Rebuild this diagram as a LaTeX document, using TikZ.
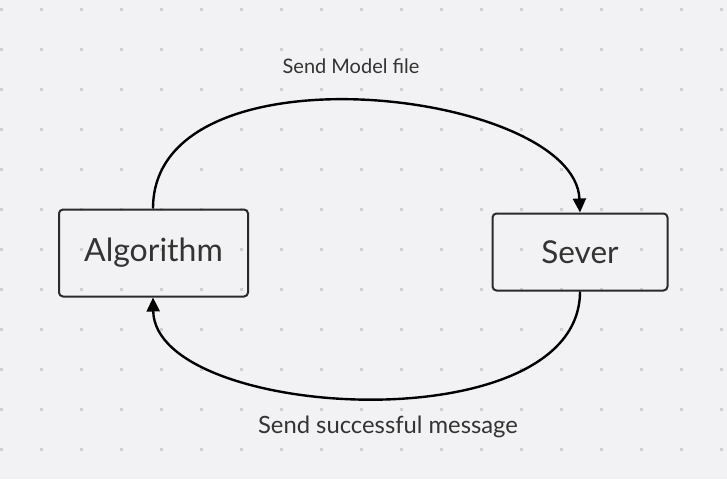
\documentclass[tikz,border=0pt]{standalone}
\usepackage{fontspec}
\setmainfont{Lato}
\usetikzlibrary{arrows.meta}
\definecolor{bgc}{HTML}{F2F2F4}
\definecolor{dotc}{HTML}{CFCFD4}
\definecolor{linec}{HTML}{2A2A2A}
\definecolor{textc}{HTML}{333333}
\tikzset{
  box/.style={draw=linec, line width=2pt, rounded corners=4pt, inner sep=0pt, text=textc},
  lbl/.style={inner sep=0pt, text=textc},
  conn/.style={draw=black, line width=2.4pt, -{Triangle[length=14pt,width=13pt]}},
}
\begin{document}
\begin{tikzpicture}[x=1pt,y=-1pt]
\fill[bgc] (0,0) rectangle (727,479);
\useasboundingbox (0,0) rectangle (727,479);
\foreach \i in {0,...,18}{
  \foreach \j in {0,...,11}{
    \fill[dotc] ({40*\i},{8+40*\j}) rectangle ++(3,3);
  }
}
\node[box, minimum width=189pt, minimum height=87pt, font=\fontsize{32}{36}\selectfont] (alg) at (153.5,253) {Algorithm};
\node[box, minimum width=175pt, minimum height=77pt, font=\fontsize{31.5}{36}\selectfont] (sev) at (580,252) {Sever};
\node[lbl, font=\fontsize{20}{24}\selectfont] (top) at (351,66) {Send Model file};
\node[lbl, font=\fontsize{23.8}{28}\selectfont] (bot) at (388,427) {Send successful message};
\draw[conn] (alg.north -| 153,0) .. controls (153,40) and (575,90) .. (sev.north);
\draw[conn] (sev.south) .. controls (580,445) and (155,420) .. (alg.south -| 153,0);
\end{tikzpicture}
\end{document}
